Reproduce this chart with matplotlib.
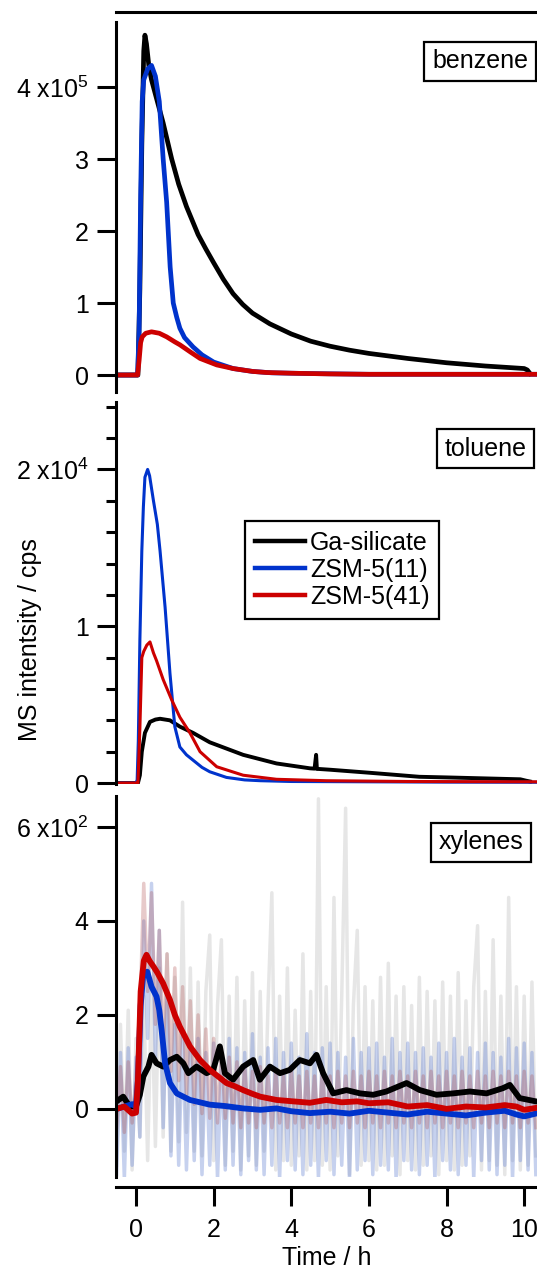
import numpy as np
import matplotlib
matplotlib.use("Agg")
import matplotlib.pyplot as plt
from matplotlib.lines import Line2D

plt.rcParams['font.family'] = ['Liberation Sans', 'DejaVu Sans']
plt.rcParams['mathtext.fontset'] = 'custom'
plt.rcParams['mathtext.rm'] = 'Liberation Sans'
plt.rcParams['mathtext.default'] = 'regular'

# ---------------- data ----------------
series_names = ["Ga-silicate", "ZSM-5(11)", "ZSM-5(41)"]
colors = ["#000000", "#0033CC", "#CC0000"]

# benzene (units of 1e5 cps)
benz_black_t = [-0.5, 0.0, 0.05, 0.1, 0.15, 0.2, 0.23, 0.27, 0.33, 0.4, 0.5, 0.6, 0.7, 0.92, 1.1, 1.3, 1.6, 1.8, 2.0, 2.25, 2.5, 2.75, 3.0, 3.45, 4.0, 4.5, 5.0, 5.5, 6.0, 7.0, 8.0, 9.0, 10.0, 10.08, 10.15]
benz_black = [0, 0, 0.0, 1.2, 3.2, 4.5, 4.72, 4.6, 4.3, 4.1, 3.9, 3.7, 3.5, 3.0, 2.65, 2.34, 1.95, 1.75, 1.56, 1.33, 1.13, 0.98, 0.86, 0.71, 0.57, 0.47, 0.40, 0.345, 0.30, 0.23, 0.17, 0.125, 0.09, 0.07, 0.02]
benz_blue_t = [-0.5, 0.0, 0.04, 0.08, 0.12, 0.16, 0.2, 0.3, 0.4, 0.5, 0.6, 0.7, 0.79, 0.88, 0.96, 1.05, 1.13, 1.25, 1.47, 1.7, 2.0, 2.5, 3.0, 3.5, 4.5, 6.0, 8.0, 10.3]
benz_blue = [0, 0, 0.0, 0.6, 2.5, 3.8, 4.1, 4.25, 4.3, 4.15, 3.8, 3.0, 2.4, 1.5, 1.0, 0.8, 0.65, 0.52, 0.39, 0.28, 0.18, 0.09, 0.05, 0.03, 0.02, 0.01, 0.01, 0.01]
benz_red_t = [-0.5, 0.0, 0.04, 0.08, 0.12, 0.16, 0.25, 0.4, 0.6, 0.79, 1.0, 1.13, 1.4, 1.65, 2.08, 2.5, 3.0, 3.36, 4.0, 5.0, 6.0, 8.0, 10.3]
benz_red = [0, 0, 0.0, 0.2, 0.45, 0.53, 0.58, 0.6, 0.58, 0.53, 0.46, 0.42, 0.32, 0.23, 0.14, 0.09, 0.05, 0.035, 0.025, 0.015, 0.01, 0.01, 0.01]

# toluene (units of 1e3 cps)
tol_black_t = [-0.5, 0.05, 0.1, 0.15, 0.23, 0.36, 0.5, 0.62, 0.875, 1.13, 1.47, 1.9, 2.33, 2.76, 3.62, 4.48, 4.6, 4.64, 4.66, 4.7, 5.0, 6.0, 7.3, 8.0, 9.9, 10.05, 10.15]
tol_black = [0, 0, 0.5, 2.0, 3.2, 3.9, 4.05, 4.1, 4.0, 3.6, 3.2, 2.6, 2.2, 1.8, 1.25, 0.94, 0.92, 1.8, 0.9, 0.9, 0.85, 0.66, 0.4, 0.36, 0.24, 0.15, 0.1]
tol_blue_t = [-0.5, 0.0, 0.03, 0.06, 0.1, 0.15, 0.19, 0.23, 0.3, 0.35, 0.45, 0.55, 0.62, 0.75, 0.875, 1.0, 1.13, 1.3, 1.47, 1.7, 1.9, 2.33, 2.8, 3.2, 4.0, 6.0, 8.0, 10.3]
tol_blue = [0, 0, 0.2, 2.7, 9.1, 14.8, 17.6, 19.5, 20.0, 19.6, 18.0, 16.5, 14.8, 11.2, 7.0, 3.6, 2.3, 1.8, 1.46, 1.0, 0.72, 0.36, 0.2, 0.15, 0.1, 0.08, 0.06, 0.05]
tol_red_t = [-0.5, 0.0, 0.05, 0.1, 0.15, 0.2, 0.28, 0.36, 0.45, 0.53, 0.7, 0.92, 1.13, 1.39, 1.65, 2.08, 2.76, 3.62, 4.9, 7.0, 10.3]
tol_red = [0, 0, 0.0, 3.5, 8.0, 8.4, 8.8, 9.0, 8.3, 7.8, 6.6, 5.3, 4.2, 3.2, 2.0, 1.04, 0.5, 0.24, 0.15, 0.1, 0.08]

# xylenes (cps), smoothed traces
xyl_black_t = [-0.5, -0.33, -0.2, -0.1, 0.0, 0.1, 0.19, 0.32, 0.4, 0.53, 0.7, 0.875, 1.05, 1.22, 1.35, 1.56, 1.82, 1.99, 2.16, 2.29, 2.5, 2.76, 3.02, 3.19, 3.45, 3.71, 3.96, 4.22, 4.48, 4.65, 4.82, 5.08, 5.42, 5.77, 6.11, 6.45, 6.97, 7.31, 7.74, 8.17, 8.6, 9.03, 9.45, 9.63, 9.88, 10.3]
xyl_black = [16, 26, 10, 5, 5, 30, 69, 90, 115, 97, 90, 104, 111, 97, 76, 90, 76, 83, 133, 76, 62, 90, 104, 62, 90, 76, 83, 104, 97, 115, 76, 33, 40, 33, 30, 37, 55, 40, 30, 33, 37, 33, 44, 51, 23, 16]
xyl_blue_t = [-0.5, -0.3, -0.1, 0.0, 0.05, 0.12, 0.19, 0.29, 0.4, 0.53, 0.6, 0.66, 0.75, 0.875, 1.05, 1.39, 1.9, 2.3, 2.76, 3.2, 3.62, 4.0, 4.48, 5.0, 5.5, 6.0, 6.5, 7.0, 7.5, 8.0, 8.5, 9.0, 9.5, 9.8, 10.0, 10.3]
xyl_blue = [0, 5, 10, 5, 60, 220, 289, 292, 260, 239, 210, 168, 97, 55, 33, 19, 9, 6, 1, -2, 1, -5, -9, -6, -10, -4, -8, -12, -6, -10, -14, -8, -4, -12, -16, -10]
xyl_red_t = [-0.5, -0.3, -0.1, 0.0, 0.05, 0.12, 0.2, 0.27, 0.35, 0.45, 0.55, 0.7, 0.875, 1.0, 1.13, 1.39, 1.65, 1.9, 2.1, 2.33, 2.55, 2.76, 3.0, 3.2, 3.62, 4.05, 4.48, 4.9, 5.3, 5.7, 6.0, 6.5, 7.0, 7.5, 8.0, 8.5, 9.0, 9.5, 9.8, 10.0, 10.3]
xyl_red = [0, 5, -10, -8, 60, 250, 315, 328, 315, 303, 290, 267, 232, 200, 175, 133, 104, 83, 70, 55, 48, 40, 32, 26, 19, 16, 13, 19, 14, 16, 12, 14, 5, 8, 0, 5, 3, 8, 5, -2, 2]

# xylenes raw (noisy) traces, sampled every 0.1 h from -0.5 h
xyl_raw_black = [-120, 180, -90, 210, -130, 150, -60, 240, -110, 260, -80, 300, -60, 330, -90, 280, -70, 440, -50, 300,
                 -90, 270, -100, 250, 370, -110, 220, 360, -120, 240, -90, 280, -130, 230, -100, 290, -120, 250, -90, 220,
                 460, -130, 240, -110, 300, -120, 210, -100, 330, -130, 250, -110, 660, -120, 260, -130, 450, -100, 240, 640,
                 -140, 220, 380, -120, 260, -110, 230, -130, 280, -120, 310, -100, 240, -140, 260, -110, 220, -130, 280, -120,
                 250, -100, 230, -140, 270, -110, 240, -130, 290, -120, 230, -100, 260, 390, -130, 250, -110, 360, -120, 240,
                 -140, 450, -110, 260, -130, 240, -120, 270, -100]
xyl_raw_blue = [-140, 120, -150, 130, -120, 110, -60, 400, 150, 480, 100, 380, -40, 250, -100, 180, -120, 160, -130, 140,
                -110, 150, -140, 120, -120, 140, -150, 110, -130, 150, -120, 130, -140, 120, -110, 160, -130, 110, -140, 130,
                -120, 150, -150, 120, -110, 140, -130, 110, -140, 160, -120, 120, -150, 130, -110, 140, -140, 120, -120, 110,
                -150, 150, -130, 120, -110, 130, -140, 140, -120, 110, -130, 150, -150, 120, -110, 140, -130, 120, -140, 130,
                -120, 110, -150, 140, -110, 120, -130, 150, -140, 110, -120, 130, -150, 120, -110, 140, -130, 120, -140, 110,
                -120, 150, -150, 130, -110, 140, -130, 120, -140]
xyl_raw_red = [-40, 90, -50, 100, -30, 60, 200, 480, 250, 460, 180, 380, 120, 330, 80, 300, 60, 260, 30, 230,
               10, 200, -10, 170, -20, 150, -30, 130, -20, 110, -30, 100, -40, 90, -30, 80, -40, 90, -30, 70,
               -40, 80, -30, 70, -40, 80, -30, 70, -40, 80, -30, 70, -40, 80, -30, 70, -40, 80, -30, 70,
               -40, 80, -30, 70, -40, 80, -30, 70, -40, 80, -30, 70, -40, 80, -30, 70, -40, 80, -30, 70,
               -40, 80, -30, 70, -40, 80, -30, 70, -40, 80, -30, 70, -40, 80, -30, 70, -40, 80, -30, 70,
               -40, 80, -30, 70, -40, 80, -30, 70, -40]

benz_ticks = [0, 1, 2, 3, 4]
benz_ticklabels = ["0", "1", "2", "3", "4 x10$^{5}$"]
tol_ticks = [0, 10, 20]
tol_ticklabels = ["0", "1", "2 x10$^{4}$"]
xyl_ticks = [0, 200, 400, 600]
xyl_ticklabels = ["0", "2", "4", "6 x10$^{2}$"]
time_ticks = [0, 2, 4, 6, 8, 10]
time_ticklabels = ["0", "2", "4", "6", "8", "10"]

# ---------------- figure ----------------
W, H = 537, 1274
fig = plt.figure(figsize=(W / 100, H / 100), dpi=100)

def frac_axes(top_px, bot_px, left_px=116, right_px=537):
    return fig.add_axes([left_px / W, 1 - bot_px / H, (right_px - left_px) / W, (bot_px - top_px) / H])

ax1 = frac_axes(22, 391.5)
ax2 = frac_axes(402, 784)
ax3 = frac_axes(796, 1177)

FS = 18
SPW = 2.2
xlim = (-0.515, 10.33)

for ax in (ax1, ax2, ax3):
    ax.set_xlim(*xlim)
    ax.patch.set_alpha(0)
    for s in ('right', 'top', 'bottom'):
        ax.spines[s].set_visible(False)
    ax.spines['left'].set_linewidth(SPW)
    ax.tick_params(axis='y', direction='out', length=13.7, width=SPW, pad=6, labelsize=FS)
    ax.tick_params(axis='x', bottom=False, labelbottom=False)

# benzene
ax1.plot(benz_black_t, benz_black, color=colors[0], lw=3.4, solid_joinstyle='round')
ax1.plot(benz_blue_t, benz_blue, color=colors[1], lw=3.4, solid_joinstyle='round')
ax1.plot(benz_red_t, benz_red, color=colors[2], lw=3.4, solid_joinstyle='round')
ax1.set_ylim(-0.229, 4.903)
ax1.set_yticks(benz_ticks)
ax1.set_yticklabels(benz_ticklabels)
ax1.spines['top'].set_visible(True)
ax1.spines['top'].set_linewidth(SPW)
ax1.spines['top'].set_position(('outward', 7))

# toluene
ax2.plot(tol_black_t, tol_black, color=colors[0], lw=2.8)
ax2.plot(tol_blue_t, tol_blue, color=colors[1], lw=2.2)
ax2.plot(tol_red_t, tol_red, color=colors[2], lw=2.2)
ax2.set_ylim(-0.06, 24.3)
ax2.set_yticks(tol_ticks)
ax2.set_yticklabels(tol_ticklabels)
ax2.set_yticks(np.arange(0, 24.1, 2), minor=True)
ax2.tick_params(axis='y', which='minor', direction='out', length=7, width=SPW)

# xylenes
raw_t_b = np.linspace(-0.5, 10.3, len(xyl_raw_black))
raw_t_u = np.linspace(-0.5, 10.3, len(xyl_raw_blue))
raw_t_r = np.linspace(-0.5, 10.3, len(xyl_raw_red))
ax3.plot(raw_t_b, xyl_raw_black, color='#c8c8c8', lw=2.5, alpha=0.45)
ax3.plot(raw_t_u, xyl_raw_blue, color='#6a86d4', lw=2.5, alpha=0.38)
ax3.plot(raw_t_r, xyl_raw_red, color='#b05050', lw=2.5, alpha=0.3)
ax3.plot(xyl_black_t, xyl_black, color=colors[0], lw=4.2)
ax3.plot(xyl_blue_t, xyl_blue, color=colors[1], lw=4.2)
ax3.plot(xyl_red_t, xyl_red, color=colors[2], lw=4.2)
ax3.set_ylim(-145, 666)
ax3.set_yticks(xyl_ticks)
ax3.set_yticklabels(xyl_ticklabels)
ax3.spines['bottom'].set_visible(True)
ax3.spines['bottom'].set_linewidth(SPW)
ax3.spines['bottom'].set_position(('outward', 7))
ax3.tick_params(axis='x', bottom=True, labelbottom=True, direction='out', length=13.7, width=SPW, pad=9, labelsize=FS)
ax3.set_xticks(time_ticks)
ax3.set_xticklabels(time_ticklabels)
ax3.set_xlabel("Time / h", fontsize=FS, labelpad=3)

fig.text(30 / W, 1 - 640 / H, "MS intentsity / cps", rotation=90, ha='center', va='center', fontsize=FS)

# legend
handles = [Line2D([], [], color=c, lw=3.2) for c in colors]
leg = ax2.legend(handles, series_names, loc='upper left', bbox_to_anchor=(0.306, 0.688), frameon=True,
                 fancybox=False, edgecolor='black', framealpha=1, handlelength=2.0, handletextpad=0.2,
                 borderpad=0.4, labelspacing=0.12, borderaxespad=0, fontsize=FS)
leg.get_frame().set_linewidth(1.6)

# compound labels
box = dict(boxstyle='square,pad=0.3', fc='white', ec='black', lw=1.6)
fig.text(480 / W, 1 - 61.5 / H, "benzene", ha='center', va='center', fontsize=FS, bbox=box)
fig.text(485.5 / W, 1 - 449 / H, "toluene", ha='center', va='center', fontsize=FS, bbox=box)
fig.text(481 / W, 1 - 842 / H, "xylenes", ha='center', va='center', fontsize=FS, bbox=box)

fig.savefig("out.png", dpi=100)
